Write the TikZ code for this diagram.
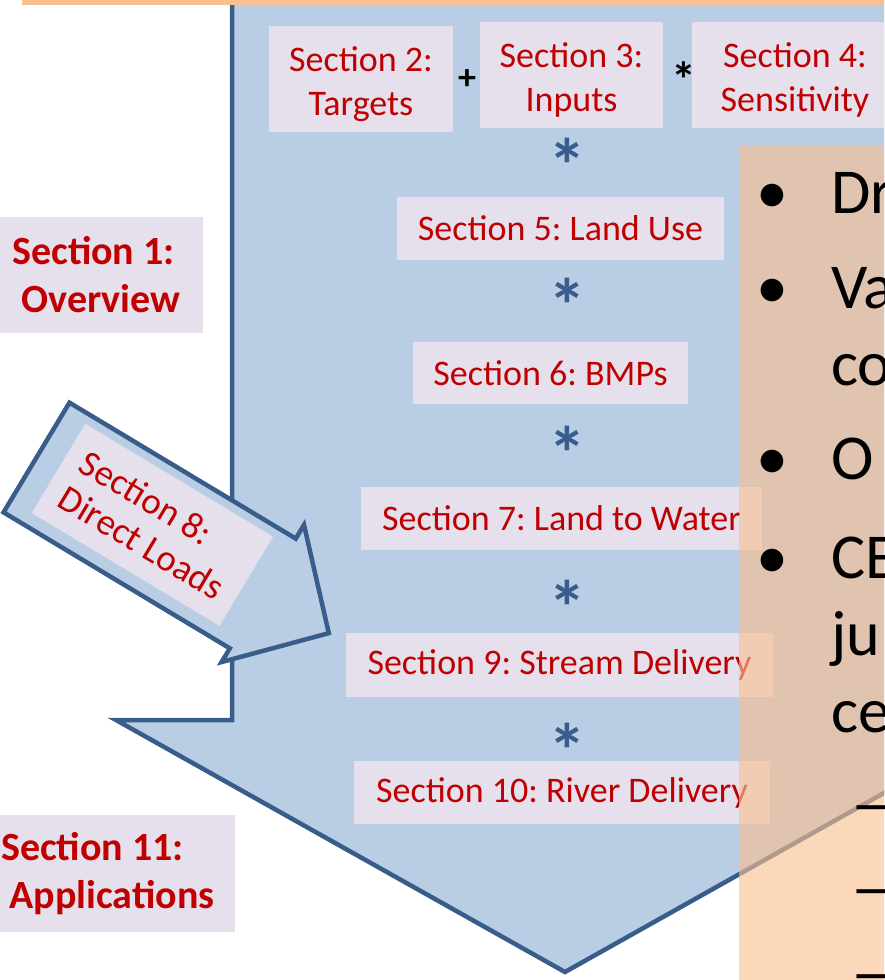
\documentclass[tikz,border=0pt]{standalone}
\usepackage{fontspec}
\setmainfont{Carlito}
\frenchspacing
\definecolor{arrowfill}{HTML}{B9CDE4}
\definecolor{arrowline}{HTML}{385D8A}
\definecolor{boxfill}{HTML}{E6E0EC}
\definecolor{secred}{HTML}{C00000}
\definecolor{peach}{HTML}{FAC090}
\tikzset{
  flow/.style={fill=arrowfill, draw=arrowline, line width=4.5pt, line join=miter},
  secbox/.style={fill=boxfill, text=secred, align=center, inner sep=0pt,
    font=\fontsize{36}{44}\selectfont},
  topbox/.style={secbox, minimum height=106, text height=79},
  sidebox/.style={secbox, font=\fontsize{40}{48}\selectfont\bfseries},
  linkstar/.style={text=arrowline, inner sep=0pt, anchor=base, font=\fontsize{76}{76}\selectfont\bfseries},
  opsign/.style={text=black, inner sep=0pt, font=\fontsize{36}{36}\selectfont\bfseries},
  bullettext/.style={text=black, inner sep=0pt, anchor=base west, font=\fontsize{64}{77}\selectfont},
  bulletdot/.style={text=black, inner sep=0pt, anchor=base, font=\fontsize{64}{77}\selectfont},
}
\begin{document}
\begin{tikzpicture}[x=1pt, y=-1pt]
\clip (0,0) rectangle (884,980);

% main downward flow arrow
\draw[flow] (232,-20) -- (232,720) -- (116,720) -- (565,972)
  -- (1014,720) -- (898,720) -- (898,-20) -- cycle;

% side arrow feeding direct loads into the flow
\begin{scope}[shift={(36.5,457.5)}, rotate=-31]
  \draw[flow] (0,-64) -- (264,-64) -- (264,-80) -- (341,0)
    -- (264,80) -- (264,64) -- (0,64) -- cycle;
  \node[secbox, transform shape, minimum width=219, minimum height=104,
    font=\fontsize{37}{41}\selectfont] (s8)
    at (134,-2) {Section 8:\kern38pt\\Direct Loads};
\end{scope}

% top row
\node[topbox, minimum width=184] (s2) at (361,79) {Section 2:\\Targets};
\node[topbox, minimum width=183] (s3) at (571.5,75) {Section 3:\\Inputs};
\node[topbox, minimum width=206] (s4) at (795,75) {Section 4:\\Sensitivity};
\node[opsign] (plus) at (467,80) {+};
\node[opsign, anchor=base, font=\fontsize{50}{50}\selectfont\bfseries] (times) at (684,97) {*};

% chain of sections
\node[secbox, minimum width=327, minimum height=63] (s5) at (560.5,228.5) {Section 5: Land Use};
\node[secbox, minimum width=275, minimum height=62] (s6) at (550.5,373) {Section 6: BMPs};
\node[secbox, minimum width=401, minimum height=63] (s7) at (561.5,518.5) {Section 7: Land to Water};
\node[secbox, minimum width=427, minimum height=64] (s9) at (559.5,665) {Section 9: Stream Delivery};
\node[secbox, minimum width=416, minimum height=63] (s10) at (562,792.5) {Section 10: River Delivery};

\node[linkstar] (k1) at (567,192) {*};
\node[linkstar] (k2) at (567,332) {*};
\node[linkstar] (k3) at (567,480) {*};
\node[linkstar] (k4) at (567,634) {*};
\node[linkstar] (k5) at (567,777) {*};

% side sections
\node[sidebox, minimum width=204, minimum height=116] (s1) at (101,275) {Section 1:\kern15pt\\Overview};
\node[sidebox, minimum width=246, minimum height=117] (s11) at (112,873.5) {Section 11:\kern39pt\\Applications};

% banner edge at the top
\fill[peach] (22,0) rectangle (884,5);

% translucent text panel
\fill[peach, opacity=0.62] (739,145) rectangle (900,990);
\node[bulletdot] (d1) at (772,213) {•};
\node[bullettext] (t1) at (831,213) {Dr};
\node[bulletdot] (d2) at (772,308) {•};
\node[bullettext] (t2) at (831,308) {Va};
\node[bullettext] (t2b) at (831,385) {co};
\node[bulletdot] (d3) at (772,479) {•};
\node[bullettext] (t3) at (831,479) {O};
\node[bulletdot] (d4) at (772,578) {•};
\node[bullettext] (t4) at (831,578) {CE};
\node[bullettext] (t4b) at (831,655) {ju};
\node[bullettext] (t4c) at (831,732) {ce};
\node[bullettext] (e1) at (851,825) {—};
\node[bullettext] (e2) at (851,909) {—};
\node[bullettext] (e3) at (851,994) {—};
\end{tikzpicture}
\end{document}
